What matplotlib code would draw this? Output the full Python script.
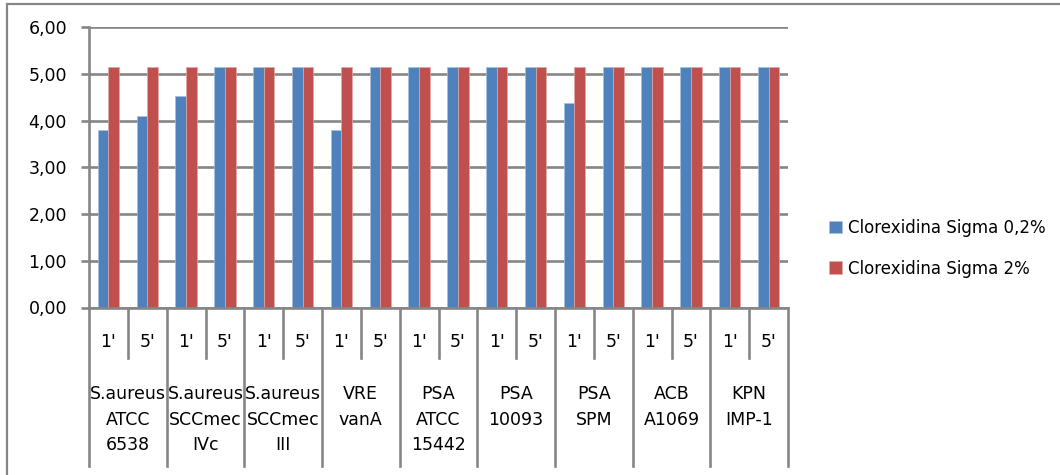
import numpy as np
import matplotlib.pyplot as plt
from matplotlib.patches import Rectangle
from matplotlib.ticker import FuncFormatter

plt.rcParams['font.family'] = ['DejaVu Sans']

# data
groups = ["S.aureus\nATCC\n6538", "S.aureus\nSCCmec\nIVc", "S.aureus\nSCCmec\nIII",
          "VRE\nvanA", "PSA\nATCC\n15442", "PSA\n10093", "PSA\nSPM",
          "ACB\nA1069", "KPN\nIMP-1"]
times = ["1'", "5'"]
series_names = ["Clorexidina Sigma 0,2%", "Clorexidina Sigma 2%"]
sigma_02 = [3.80, 4.10, 4.53, 5.14, 5.14, 5.14, 3.80, 5.14, 5.14,
            5.14, 5.14, 5.14, 4.37, 5.14, 5.14, 5.14, 5.14, 5.14]
sigma_2 = [5.14] * 18

BLUE = "#4F81BD"
RED = "#C0504D"
GRID = "#868686"
W, H = 1060, 475

fig = plt.figure(figsize=(W / 100, H / 100), dpi=100)
# chart border (only top/left visible in the reference crop)
fig.patches.append(Rectangle((7 / W, -0.5), 2.0, 1.5 - 4 / H, transform=fig.transFigure,
                             fill=False, ec=GRID, lw=1.6))

y0, y1 = 307.5, 27.3
ax = fig.add_axes([89 / W, 1 - y0 / H, (788 - 89) / W, (y0 - y1) / H])

n = len(sigma_02)
x = np.arange(n)
bw = 0.275
ax.bar(x - bw / 2, sigma_02, bw, color=BLUE, ec="#A7C0DE", lw=0.5, label=series_names[0], zorder=3)
ax.bar(x + bw / 2, sigma_2, bw, color=RED, ec="#E0A8A6", lw=0.5, label=series_names[1], zorder=3)

ax.set_xlim(-0.5, n - 0.5)
ax.set_ylim(0, 6)
ax.set_yticks(np.arange(0, 7, 1))
ax.yaxis.set_major_formatter(FuncFormatter(lambda v, p: f"{v:.2f}".replace(".", ",")))
ax.grid(axis="y", color=GRID, lw=1.9, zorder=0)
ax.tick_params(axis="y", length=5.8, width=1.9, color=GRID, pad=10, labelsize=12.5)
ax.set_xticks([])
for s in ["top", "right", "bottom"]:
    ax.spines[s].set_visible(False)
ax.spines["left"].set_color(GRID)
ax.spines["left"].set_linewidth(1.9)
ax.axhline(0, color=GRID, lw=1.9, zorder=4, clip_on=False)

# multi-level category axis
ph = y0 - y1
inner_bot = -(358 - y0) / ph
outer_bot = -(466 - y0) / ph
tr = ax.get_xaxis_transform()
for k in range(n + 1):
    xb = k - 0.5
    bottom = outer_bot if k % 2 == 0 else inner_bot
    ax.plot([xb, xb], [0, bottom], color=GRID, lw=1.9, transform=tr, clip_on=False)
for k in range(n):
    ax.text(k, -(342 - y0) / ph, times[k % 2], transform=tr, ha="center", va="center",
            fontsize=12.5)
for g, name in enumerate(groups):
    ax.text(2 * g + 0.5, -(385 - y0) / ph, name, transform=tr, ha="center", va="top",
            fontsize=12.5, linespacing=1.55)

leg = fig.legend(loc="upper left", bbox_to_anchor=(814 / W, 1 - 204 / H), frameon=False,
                 fontsize=12, handlelength=0.78, handleheight=0.78, handletextpad=0.35,
                 labelspacing=1.35)

fig.savefig("out.png", dpi=100)
